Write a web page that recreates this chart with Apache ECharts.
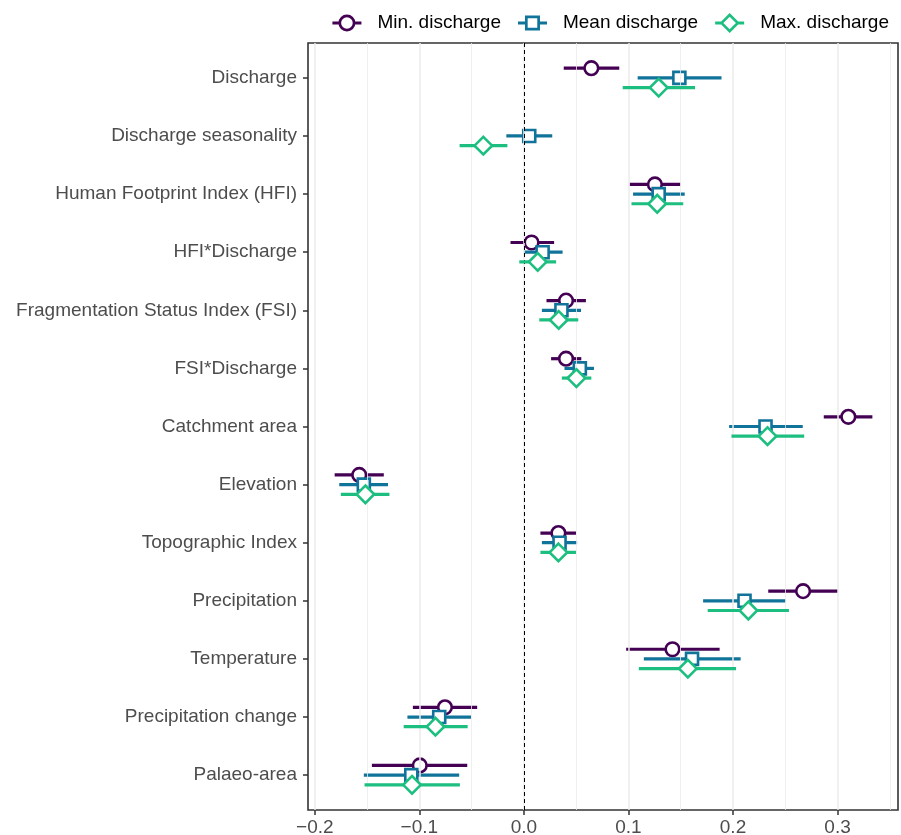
<!DOCTYPE html>
<html>
<head>
<meta charset="utf-8">
<script src="https://cdn.jsdelivr.net/npm/echarts@6/dist/echarts.min.js"></script>
<style>
html,body{margin:0;padding:0;background:#fff;}
#chart{width:901px;height:835px;}
</style>
</head>
<body>
<div id="chart"></div>
<script>
// ---- data ----
const categories = [
  'Discharge', 'Discharge seasonality', 'Human Footprint Index (HFI)', 'HFI*Discharge',
  'Fragmentation Status Index (FSI)', 'FSI*Discharge', 'Catchment area', 'Elevation',
  'Topographic Index', 'Precipitation', 'Temperature', 'Precipitation change', 'Palaeo-area'
];
const seriesNames = ['Min. discharge', 'Mean discharge', 'Max. discharge'];

const minEst  = [0.0645, null, 0.1253, 0.0073, 0.0403, 0.0403, 0.3103, -0.1575, 0.0330, 0.2670, 0.1421, -0.0755, -0.0996];
const minLo   = [0.0381, null, 0.1011, -0.0128, 0.0216, 0.0260, 0.2868, -0.1810, 0.0158, 0.2337, 0.0978, -0.1062, -0.1454];
const minHi   = [0.0912, null, 0.1498, 0.0289, 0.0593, 0.0549, 0.3333, -0.1340, 0.0498, 0.3004, 0.1872, -0.0447, -0.0542];

const meanEst = [0.1487, 0.0051, 0.1289, 0.0179, 0.0359, 0.0535, 0.2311, -0.1531, 0.0341, 0.2110, 0.1608, -0.0810, -0.1077];
const meanLo  = [0.1088, -0.0168, 0.1044, 0.0004, 0.0172, 0.0388, 0.1963, -0.1766, 0.0172, 0.1714, 0.1147, -0.1114, -0.1531];
const meanHi  = [0.1890, 0.0271, 0.1538, 0.0370, 0.0546, 0.0670, 0.2667, -0.1300, 0.0509, 0.2505, 0.2073, -0.0505, -0.0619];

const maxEst  = [0.1289, -0.0388, 0.1275, 0.0132, 0.0333, 0.0502, 0.2330, -0.1516, 0.0330, 0.2147, 0.1568, -0.0846, -0.1070];
const maxLo   = [0.0945, -0.0615, 0.1029, -0.0044, 0.0147, 0.0363, 0.1985, -0.1751, 0.0158, 0.1758, 0.1099, -0.1150, -0.1524];
const maxHi   = [0.1637, -0.0158, 0.1524, 0.0308, 0.0520, 0.0645, 0.2681, -0.1286, 0.0498, 0.2535, 0.2029, -0.0538, -0.0612];

const xTicks = [-0.2, -0.1, 0.0, 0.1, 0.2, 0.3];
const xMinorTicks = [-0.15, -0.05, 0.05, 0.15, 0.25, 0.35];

// ---- styles ----
const colors = ['#440154', '#107399', '#1DBF80'];
const shapes = ['circle', 'square', 'diamond'];
const dodge = [-1/6, 0, 1/6];
const FONT = '"Liberation Sans", Arial, Helvetica, sans-serif';

const legendIcons = [
  'path://M0 7H7V10H0Z M22 7H29V10H22Z M14.5 0A8.5 8.5 0 1 1 14.5 17A8.5 8.5 0 1 1 14.5 0Z M14.5 2.7A5.8 5.8 0 1 0 14.5 14.3A5.8 5.8 0 1 0 14.5 2.7Z',
  'path://M0 6H7.5V9H0Z M21.5 6H29V9H21.5Z M7 0H22V15H7Z M9.7 2.7V12.3H19.3V2.7Z',
  'path://M0 8.5H6.5V11.5H0Z M22.5 8.5H29V11.5H22.5Z M14.5 0L24.5 10L14.5 20L4.5 10Z M14.5 3.7L8.2 10L14.5 16.3L20.8 10Z'
];

function buildData(est, lo, hi) {
  const out = [];
  for (let i = 0; i < categories.length; i++) {
    if (est[i] == null) continue;
    out.push([est[i], lo[i], hi[i], i]);
  }
  return out;
}
const groups = [
  buildData(minEst, minLo, minHi),
  buildData(meanEst, meanLo, meanHi),
  buildData(maxEst, maxLo, maxHi)
];

function makeRender(k) {
  const color = colors[k], shape = shapes[k], off = dodge[k];
  return function (params, api) {
    const y = api.value(3) + off;
    const p = api.coord([api.value(0), y]);
    const a = api.coord([api.value(1), y]);
    const b = api.coord([api.value(2), y]);
    const children = [{
      type: 'line',
      shape: { x1: a[0], y1: a[1], x2: b[0], y2: b[1] },
      style: { stroke: color, lineWidth: 3.2, lineCap: 'butt' }
    }];
    const ms = { fill: '#fff', stroke: color, lineWidth: 2.6 };
    if (shape === 'circle') {
      children.push({ type: 'circle', shape: { cx: p[0], cy: p[1], r: 6.8 }, style: ms });
    } else if (shape === 'square') {
      const h = 6;
      children.push({ type: 'rect', shape: { x: p[0] - h, y: p[1] - h, width: 2 * h, height: 2 * h }, style: ms });
    } else {
      const d = 8.8;
      children.push({ type: 'polygon', shape: { points: [[p[0], p[1] - d], [p[0] + d, p[1]], [p[0], p[1] + d], [p[0] - d, p[1]]] }, style: ms });
    }
    return { type: 'group', children: children };
  };
}

const chart = echarts.init(document.getElementById('chart'), null, { renderer: 'canvas' });

const gridLines = xTicks.map(v => ({ xAxis: v, lineStyle: { color: '#EBEBEB', width: 1.5, type: 'solid' } }))
  .concat(xMinorTicks.map(v => ({ xAxis: v, lineStyle: { color: '#EBEBEB', width: 0.8, type: 'solid' } })));

const series = [
  {
    type: 'line', name: '_grid', data: [], z: 1, silent: true,
    markLine: { silent: true, symbol: ['none', 'none'], label: { show: false }, animation: false, data: gridLines }
  },
  {
    type: 'line', name: '_zero', data: [], z: 2, silent: true,
    markLine: { silent: true, symbol: ['none', 'none'], label: { show: false }, animation: false,
      data: [{ xAxis: 0, lineStyle: { color: '#000', width: 1, type: [4, 3] } }] }
  }
];
for (let k = 0; k < 3; k++) {
  series.push({
    type: 'custom',
    name: seriesNames[k],
    data: groups[k],
    encode: { x: [0, 1, 2], y: 3 },
    itemStyle: { color: colors[k] },
    renderItem: makeRender(k),
    z: 3 + k,
    animation: false
  });
}

chart.setOption({
  animation: false,
  backgroundColor: '#fff',
  textStyle: { fontFamily: FONT },
  legend: {
    data: seriesNames.map((n, k) => ({ name: n, icon: legendIcons[k], itemStyle: { color: colors[k], borderWidth: 0 } })),
    right: 7,
    top: 8,
    itemWidth: 29,
    itemHeight: 20,
    itemGap: 17,
    selectedMode: false,
    textStyle: { fontFamily: FONT, fontSize: 19, color: '#000', padding: [0, 0, 0, 11] }
  },
  grid: {
    left: 308, right: 3, top: 43, bottom: 25,
    show: true, borderColor: '#333333', borderWidth: 1.6, backgroundColor: 'transparent',
    containLabel: false,
    outerBoundsMode: 'none'
  },
  xAxis: {
    type: 'value',
    min: -0.2065,
    max: 0.3578,
    axisLine: { show: false, onZero: false },
    splitLine: { show: false },
    axisTick: { show: true, length: 5, customValues: xTicks, lineStyle: { color: '#333333', width: 1.5 } },
    axisLabel: {
      customValues: xTicks, margin: 8,
      fontFamily: FONT, fontSize: 19, color: '#4D4D4D',
      formatter: v => (v < 0 ? '\u2212' : '') + Math.abs(v).toFixed(1)
    }
  },
  yAxis: {
    type: 'value',
    inverse: true,
    min: -0.6,
    max: categories.length - 1 + 0.6,
    axisLine: { show: false, onZero: false },
    splitLine: { show: false },
    axisTick: { show: true, length: 5, customValues: categories.map((c, i) => i), lineStyle: { color: '#333333', width: 1.5 } },
    axisLabel: {
      customValues: categories.map((c, i) => i), margin: 11,
      fontFamily: FONT, fontSize: 19, color: '#4D4D4D',
      formatter: v => categories[Math.round(v)]
    }
  },
  series: series
});
</script>
</body>
</html>
